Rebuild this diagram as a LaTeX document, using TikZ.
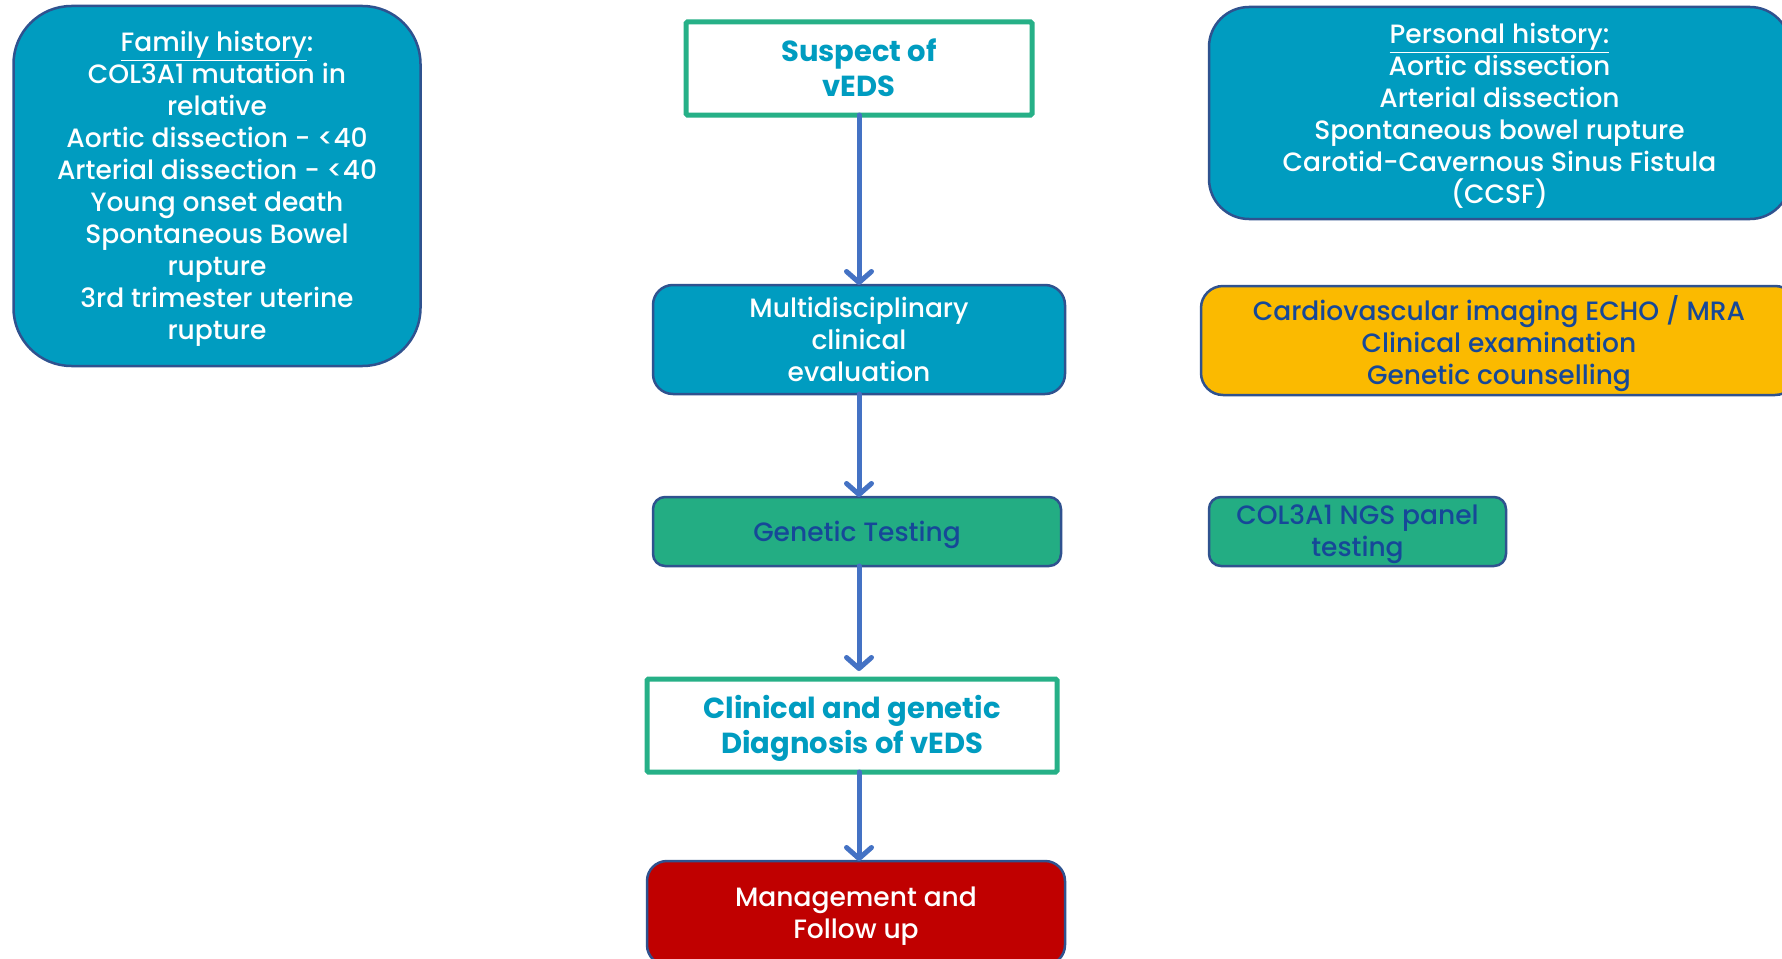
\documentclass[tikz,border=0pt]{standalone}
\usepackage{fontspec}
\IfFontExistsTF{Poppins Medium}
  {\setmainfont{Poppins}[UprightFont={* Medium},BoldFont={* Bold}]}
  {\setmainfont{Poppins}}
\usetikzlibrary{arrows.meta}
\definecolor{cTeal}{RGB}{0,156,192}
\definecolor{cBorder}{RGB}{47,82,143}
\definecolor{cGreen}{RGB}{35,173,131}
\definecolor{cGreenLine}{RGB}{38,176,135}
\definecolor{cYellow}{RGB}{251,186,0}
\definecolor{cRed}{RGB}{192,0,0}
\definecolor{cDark}{RGB}{22,72,152}
\definecolor{cArrow}{RGB}{68,114,196}
\begin{document}
\begin{tikzpicture}[x=1pt,y=-1pt,
  base/.style={inner sep=0pt,outer sep=0pt},
  txt/.style={align=center,inner sep=0pt,yshift=-3pt,
    font=\fontsize{26.5}{32}\selectfont},
  wt/.style={txt,text=white},
  dt/.style={txt,text=cDark},
  tt/.style={txt,text=cTeal,font=\fontsize{29}{35}\selectfont\bfseries},
  bluebox/.style={base,draw=cBorder,line width=2.5pt,fill=cTeal},
  yellowbox/.style={base,draw=cBorder,line width=2.5pt,fill=cYellow},
  greenbox/.style={base,draw=cBorder,line width=2.5pt,fill=cGreen},
  redbox/.style={base,draw=cBorder,line width=2.5pt,fill=cRed},
  whitebox/.style={base,draw=cGreenLine,line width=5pt,fill=white,rounded corners=1.5pt},
  flow/.style={draw=cArrow,line width=5pt,line cap=round,
    -{Straight Barb[length=11pt,width=25pt,line cap=round,line join=round]}}
]
\useasboundingbox (0,0) rectangle (1782,958);
\clip (0,0) rectangle (1782,958);
\fill[white] (0,0) rectangle (1782,958);

\node[bluebox,rounded corners=58pt,minimum width=407pt,minimum height=360pt,
  label={[wt]center:{\underline{Family history}:\\COL3A1 mutation in\\relative\\Aortic dissection - <40\\Arterial dissection - <40\\Young onset death\\Spontaneous Bowel\\rupture\\3rd trimester uterine\\rupture}}] (fam) at (217,186) {};

\node[bluebox,rounded corners=40pt,minimum width=581pt,minimum height=212pt,
  label={[wt]center:{\underline{Personal history:}\\Aortic dissection\\Arterial dissection\\Spontaneous bowel rupture\\Carotid-Cavernous Sinus Fistula\\(CCSF)}}] (pers) at (1499.5,113) {};

\node[whitebox,minimum width=346pt,minimum height=93pt,
  label={[tt]center:{Suspect of\\vEDS\vphantom{g}}}] (sus) at (859,68.5) {};

\node[bluebox,rounded corners=20pt,minimum width=412pt,minimum height=109pt,
  label={[wt]center:{Multidisciplinary\\clinical\\evaluation\vphantom{g}}}] (multi) at (859,339.5) {};

\node[yellowbox,rounded corners=22pt,minimum width=596pt,minimum height=109pt,
  label={[dt]center:{Cardiovascular imaging ECHO / MRA\\Clinical examination\\Genetic counselling}}] (eval) at (1499,340.5) {};

\node[greenbox,rounded corners=12pt,minimum width=408pt,minimum height=69pt,
  label={[dt]center:{Genetic Testing}}] (gen) at (857,531.5) {};

\node[greenbox,rounded corners=12pt,minimum width=297pt,minimum height=69pt,
  label={[dt]center:{COL3A1 NGS panel\\testing}}] (ngs) at (1357.5,531.5) {};

\node[whitebox,minimum width=410pt,minimum height=93pt,
  label={[tt]center:{Clinical and genetic\\Diagnosis of vEDS}}] (diag) at (852,725.5) {};

\node[redbox,rounded corners=20pt,minimum width=418pt,minimum height=104pt,
  label={[wt]center:{Management and\\Follow up}}] (mgmt) at (856,913) {};

\draw[flow] (sus.south) -- (sus.south |- multi.north);
\draw[flow] (multi.south) -- (multi.south |- gen.north);
\draw[flow,shorten >=8pt] (multi.south |- gen.south) -- (multi.south |- diag.north);
\draw[flow] (multi.south |- diag.south) -- (multi.south |- mgmt.north);
\end{tikzpicture}
\end{document}
